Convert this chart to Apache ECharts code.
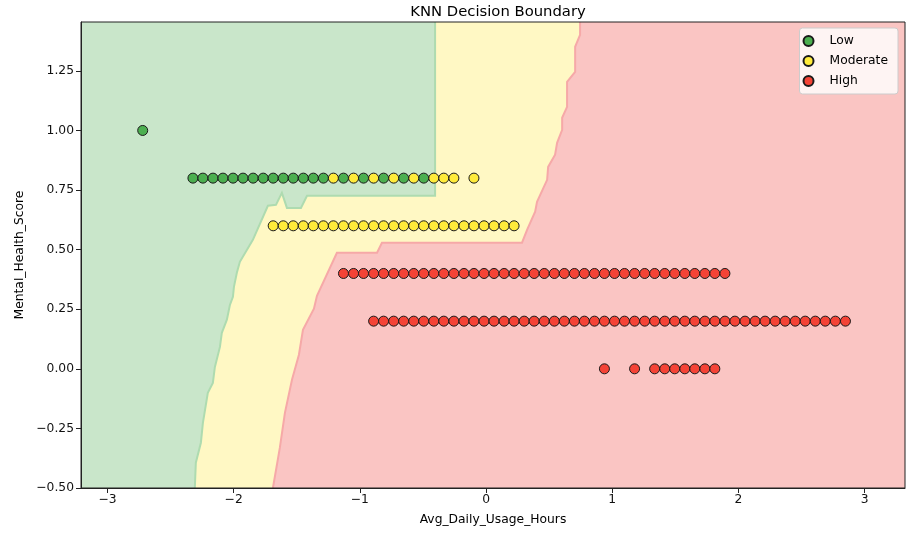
<!DOCTYPE html>
<html>
<head>
<meta charset="utf-8">
<script src="https://cdn.jsdelivr.net/npm/echarts@6/dist/echarts.min.js"></script>
<style>
  html, body { margin: 0; padding: 0; background: #fff; }
  #main { width: 917px; height: 534px; }
</style>
</head>
<body>
<div id="main"></div>
<script>
"use strict";

// axis extent of the mesh
const xMin = -3.21, xMax = 3.32, yMin = -0.5, yMax = 1.455;
const xTicks = [-3, -2, -1, 0, 1, 2, 3];
const yTicks = [-0.5, -0.25, 0, 0.25, 0.5, 0.75, 1.0, 1.25];

// training points, one array of x values per score row
const lowX100 = [-2.721];
const lowX080 = [-2.323, -2.244, -2.164, -2.085, -2.005, -1.926, -1.846, -1.766, -1.687, -1.607,
  -1.528, -1.448, -1.369, -1.289, -1.130, -0.971, -0.812, -0.653, -0.494];
const modX080 = [-1.210, -1.050, -0.891, -0.732, -0.573, -0.414, -0.335, -0.255, -0.096];
const modX060 = [-1.687, -1.607, -1.528, -1.448, -1.369, -1.289, -1.210, -1.130, -1.050, -0.971,
  -0.891, -0.812, -0.732, -0.653, -0.573, -0.494, -0.414, -0.335, -0.255, -0.175,
  -0.096, -0.016, 0.063, 0.143, 0.222];
const highX040 = [-1.130, -1.050, -0.971, -0.891, -0.812, -0.732, -0.653, -0.573, -0.494, -0.414,
  -0.335, -0.255, -0.175, -0.096, -0.016, 0.063, 0.143, 0.222, 0.302, 0.381,
  0.461, 0.541, 0.620, 0.700, 0.779, 0.859, 0.938, 1.018, 1.097, 1.177,
  1.257, 1.336, 1.416, 1.495, 1.575, 1.654, 1.734, 1.813, 1.893];
const highX020 = [-0.891, -0.812, -0.732, -0.653, -0.573, -0.494, -0.414, -0.335, -0.255, -0.175,
  -0.096, -0.016, 0.063, 0.143, 0.222, 0.302, 0.381, 0.461, 0.541, 0.620,
  0.700, 0.779, 0.859, 0.938, 1.018, 1.097, 1.177, 1.257, 1.336, 1.416,
  1.495, 1.575, 1.654, 1.734, 1.813, 1.893, 1.972, 2.052, 2.132, 2.211,
  2.291, 2.370, 2.450, 2.529, 2.609, 2.688, 2.768, 2.848];
const highX000 = [0.938, 1.177, 1.336, 1.416, 1.495, 1.575, 1.654, 1.734, 1.813];

// decision boundaries, top to bottom
const lowBoundary = [
  [-0.404, 1.455], [-0.404, 0.726], [-1.419, 0.726], [-1.467, 0.675], [-1.578, 0.675],
  [-1.618, 0.738], [-1.665, 0.688], [-1.729, 0.684], [-1.848, 0.541], [-1.951, 0.449],
  [-1.975, 0.403], [-1.998, 0.344], [-2.006, 0.302], [-2.030, 0.268], [-2.054, 0.206],
  [-2.094, 0.151], [-2.109, 0.092], [-2.149, 0.008], [-2.165, -0.059], [-2.205, -0.101],
  [-2.244, -0.227], [-2.260, -0.310], [-2.300, -0.394], [-2.308, -0.5]
];
const highBoundary = [
  [0.745, 1.455], [0.745, 1.401], [0.706, 1.351], [0.706, 1.246], [0.642, 1.204],
  [0.642, 1.099], [0.603, 1.053], [0.603, 1.003], [0.563, 0.948], [0.547, 0.898],
  [0.492, 0.847], [0.484, 0.793], [0.404, 0.701], [0.389, 0.659], [0.325, 0.583],
  [0.285, 0.529], [-0.825, 0.529], [-0.864, 0.487], [-1.182, 0.487], [-1.340, 0.306],
  [-1.364, 0.252], [-1.451, 0.164], [-1.483, 0.059], [-1.538, -0.046], [-1.594, -0.185],
  [-1.634, -0.331], [-1.689, -0.5]
];

const row = (xs, y) => xs.map((x) => [x, y]);
const lowPoints = row(lowX100, 1.0).concat(row(lowX080, 0.8));
const modPoints = row(modX080, 0.8).concat(row(modX060, 0.6));
const highPoints = row(highX040, 0.4).concat(row(highX020, 0.2), row(highX000, 0.0));

const minus = (s) => s.replace("-", "\u2212");
const font = "DejaVu Sans";

function regionSeries(polygon, boundary, fill, edge) {
  return {
    type: "custom",
    coordinateSystem: "cartesian2d",
    clip: true,
    silent: true,
    z: 1,
    data: [[xMin, yMin]],
    renderItem: (params, api) => ({
      type: "group",
      children: [
        {
          type: "polygon",
          shape: { points: polygon.map((p) => api.coord(p)) },
          style: { fill: fill },
        },
        {
          type: "polyline",
          shape: { points: boundary.map((p) => api.coord(p)) },
          style: { fill: null, stroke: edge, lineWidth: 2 },
        },
      ],
    }),
  };
}

function pointSeries(name, data, color) {
  return {
    name: name,
    type: "scatter",
    data: data,
    symbol: "circle",
    symbolSize: 10,
    z: 3,
    itemStyle: { color: color, borderColor: "#1a1a1a", borderWidth: 1, opacity: 1 },
  };
}

let myChart = echarts.init(document.getElementById("main"));

let option = {
  animation: false,
  backgroundColor: "#ffffff",
  textStyle: { fontFamily: font },
  title: {
    text: "KNN Decision Boundary",
    left: 493,
    top: 0,
    textAlign: "center",
    textStyle: { fontFamily: font, fontSize: 14.8, fontWeight: "normal", color: "#000" },
  },
  legend: {
    data: ["Low", "Moderate", "High"],
    orient: "vertical",
    right: 19,
    top: 28,
    itemWidth: 32,
    itemHeight: 10,
    itemGap: 6,
    padding: [6, 10, 6, 3],
    backgroundColor: "rgba(255,255,255,0.8)",
    borderColor: "#cccccc",
    borderWidth: 1,
    borderRadius: 3,
    textStyle: { fontFamily: font, fontSize: 12.3, color: "#000", lineHeight: 14 },
  },
  grid: {
    left: 81,
    right: 12,
    top: 22,
    bottom: 46,
    show: true,
    backgroundColor: "transparent",
    borderColor: "#222",
    borderWidth: 1,
    z: 10,
  },
  xAxis: {
    type: "value",
    min: xMin,
    max: xMax,
    z: 10,
    name: "Avg_Daily_Usage_Hours",
    nameLocation: "middle",
    nameGap: 26,
    nameTextStyle: { fontFamily: font, fontSize: 12.3, color: "#000" },
    splitLine: { show: false },
    axisLine: { show: true, onZero: false, lineStyle: { color: "#222", width: 1 } },
    axisTick: { show: true, inside: false, customValues: xTicks, length: 5, lineStyle: { color: "#222" } },
    axisLabel: {
      customValues: xTicks,
      margin: 6,
      fontFamily: font,
      fontSize: 12.3,
      color: "#111",
      formatter: (v) => minus(String(v)),
    },
  },
  yAxis: {
    type: "value",
    min: yMin,
    max: yMax,
    z: 10,
    name: "Mental_Health_Score",
    nameLocation: "middle",
    nameGap: 53,
    nameTextStyle: { fontFamily: font, fontSize: 12.3, color: "#000" },
    splitLine: { show: false },
    axisLine: { show: true, onZero: false, lineStyle: { color: "#222", width: 1 } },
    axisTick: { show: true, inside: false, customValues: yTicks, length: 5, lineStyle: { color: "#222" } },
    axisLabel: {
      customValues: yTicks,
      margin: 7,
      fontFamily: font,
      fontSize: 12.3,
      color: "#111",
      formatter: (v) => minus(v.toFixed(2)),
    },
  },
  series: [
    regionSeries(
      [[xMin, yMax], [xMax, yMax], [xMax, yMin], [xMin, yMin]],
      [], "#fff8c4", "#fff8c4"
    ),
    regionSeries([[xMin, yMax]].concat(lowBoundary, [[xMin, yMin]]), lowBoundary, "#c9e6ca", "#aedbb0"),
    regionSeries([[xMax, yMax]].concat(highBoundary, [[xMax, yMin]]), highBoundary, "#fac5c3", "#f6a9a8"),
    pointSeries("Low", lowPoints, "#4caf50"),
    pointSeries("Moderate", modPoints, "#ffeb3b"),
    pointSeries("High", highPoints, "#f44336"),
  ],
};

option && myChart.setOption(option);
</script>
</body>
</html>
